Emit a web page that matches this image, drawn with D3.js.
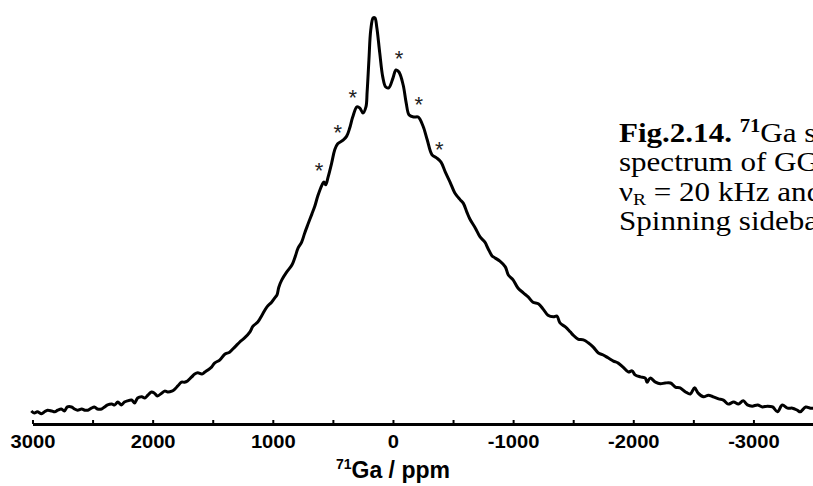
<!DOCTYPE html>
<html>
<head>
<meta charset="utf-8">
<script src="https://cdn.jsdelivr.net/npm/d3@7"></script>
<style>
  body { margin: 0; background: #fff; overflow: hidden; }
  svg { display: block; }
</style>
</head>
<body>
<div id="chart"></div>
<script>
// Chemical shift (ppm) and intensity (peak = 100)
const ppm = [3010,2985,2960,2925,2900,2875,2840,2815,2790,2760,
  2735,2710,2675,2650,2625,2590,2565,2540,2510,2485,
  2460,2425,2400,2375,2340,2315,2290,2260,2235,2210,
  2175,2150,2125,2090,2065,2040,2010,1985,1960,1925,
  1900,1875,1840,1815,1790,1760,1735,1710,1675,1650,
  1625,1590,1565,1540,1510,1485,1440,1400,1360,1315,
  1275,1235,1190,1165,1125,1090,1050,1010,985,965,
  950,925,885,840,815,790,760,735,710,675,
  650,625,590,575,560,540,510,485,460,415,
  385,360,335,300,275,250,225,215,200,185,
  165,150,135,110,85,60,35,0,-25,-50,
  -85,-110,-135,-175,-210,-250,-285,-325,-365,-400,
  -435,-475,-515,-560,-585,-615,-640,-685,-725,-765,
  -790,-825,-850,-890,-935,-960,-1000,-1040,-1085,-1125,
  -1165,-1210,-1250,-1290,-1335,-1365,-1390,-1435,-1475,-1500,
  -1540,-1585,-1625,-1665,-1710,-1750,-1790,-1835,-1875,-1915,
  -1960,-1990,-2015,-2060,-2100,-2115,-2140,-2185,-2225,-2265,
  -2310,-2350,-2390,-2435,-2475,-2510,-2540,-2585,-2625,-2665,
  -2710,-2750,-2790,-2835,-2875,-2915,-2950,-2990,-3035,-3075,
  -3115,-3160,-3200,-3240,-3285,-3325,-3365,-3390,-3435,-3475,
  -3500];

const intensity = [3.2,2.7,3.0,2.5,3.0,3.4,3.2,3.0,3.4,3.7,
  3.2,4.2,4.2,3.7,3.4,3.7,3.4,3.4,3.9,4.2,
  3.7,3.7,4.2,4.7,4.9,4.7,5.4,4.7,5.4,5.7,
  5.9,5.2,6.4,6.7,6.4,7.1,7.9,7.6,6.9,7.6,
  8.1,7.9,8.1,8.6,9.4,10.3,10.3,10.6,11.6,12.3,
  12.6,12.3,12.8,13.3,14.0,15.0,15.8,17.2,17.7,19.0,
  20.2,21.2,22.7,24.1,25.1,26.8,28.8,30.0,31.0,31.8,
  33.7,35.5,37.4,39.2,41.1,43.3,44.8,47.0,49.0,51.7,
  53.7,56.2,58.9,59.6,58.9,60.8,64.3,67.5,69.0,69.9,
  70.9,72.9,75.6,78.1,77.8,76.6,78.1,81.8,89.7,97.0,
  100,100,97.8,91.4,85.5,83.0,82.8,85.2,87.2,86.7,
  83.5,79.1,76.1,75.6,75.6,73.4,70.0,66.3,65.5,64.5,
  62.1,59.6,56.9,55.2,54.4,52.2,50.5,48.3,46.1,44.8,
  43.3,41.4,40.9,40.1,38.7,36.7,35.5,33.5,32.3,31.3,
  30.0,29.6,28.3,26.8,26.4,26.6,24.9,23.9,22.7,21.9,
  20.9,20.7,20.0,19.0,17.5,17.0,16.3,15.5,15.0,14.0,
  12.8,13.1,12.1,11.6,11.3,10.3,11.3,10.3,9.9,10.1,
  10.1,9.1,8.9,7.9,7.4,8.9,7.6,6.7,7.1,6.7,
  6.2,5.9,4.9,5.4,4.9,5.7,4.7,4.4,4.7,4.2,
  4.4,4.2,3.0,4.7,3.9,3.9,3.4,3.0,4.2,3.9,
  3.9];

// Spinning sidebands marked with *
const sidebandPpm = [615, 460, 335, -50, -215, -385];
const sidebandInt = [63.5, 72.9, 81.5, 91.1, 79.8, 68.7];

// Axis ticks every 500 ppm, labels every 1000
const tickValues = d3.range(3000, -3501, -500);

const captionLines = [
  "spectrum of GGO recorded at 18.8 T,",
  "Spinning sidebands are marked by *."
];

const width = 813;
const height = 486;

const x = d3.scaleLinear().domain([3000, -3500]).range([32.5, 813.5]);
const y = d3.scaleLinear().domain([0, 100]).range([424, 18]);

const svg = d3.select("#chart")
  .append("svg")
  .attr("width", width)
  .attr("height", height);

// spectrum trace
const line = d3.line()
  .x(d => x(d[0]))
  .y(d => y(d[1]))
  .curve(d3.curveCatmullRom.alpha(0.5));

svg.append("path")
  .datum(d3.zip(ppm, intensity))
  .attr("d", line)
  .attr("fill", "none")
  .attr("stroke", "#000")
  .attr("stroke-width", 3)
  .attr("stroke-linejoin", "round");

// x axis, ticks pointing up
const xAxis = d3.axisBottom(x)
  .tickValues(tickValues)
  .tickFormat(d => d % 1000 === 0 ? String(d) : "")
  .tickSizeInner(-4)
  .tickSizeOuter(0)
  .tickPadding(11);

const gx = svg.append("g")
  .attr("transform", `translate(0,${y(0)})`)
  .call(xAxis);

gx.select(".domain").attr("stroke", "#000").attr("stroke-width", 3);
gx.selectAll(".tick line").attr("stroke", "#000").attr("stroke-width", 2);
// the original figure is a little stretched sideways, so widen the labels
gx.selectAll(".tick text")
  .attr("fill", "#000")
  .attr("transform", "scale(1.12,1)")
  .style("font-family", "'Liberation Sans', Arial, sans-serif")
  .style("font-weight", "bold")
  .style("font-size", "18px");

// x label with superscript mass number
const xl = svg.append("text")
  .attr("x", x(0))
  .attr("y", 478)
  .attr("text-anchor", "middle")
  .style("font-family", "'Liberation Sans', Arial, sans-serif")
  .style("font-weight", "bold")
  .style("font-size", "23px");
xl.append("tspan").attr("dy", -9).style("font-size", "14px").text("71");
xl.append("tspan").attr("dy", 9).text("Ga / ppm");

// sideband asterisks
svg.selectAll("text.star")
  .data(d3.zip(sidebandPpm, sidebandInt))
  .enter()
  .append("text")
  .attr("class", "star")
  .attr("x", d => x(d[0]))
  .attr("y", d => y(d[1]) + 12)
  .attr("text-anchor", "middle")
  .style("font-family", "'Liberation Sans', Arial, sans-serif")
  .style("font-size", "22px")
  .attr("fill", "#222")
  .text("*");

// caption on the right (runs off the page like the original)
const capY = 142;
const capStep = 29.5;
const serif = "'Liberation Serif', 'Times New Roman', serif";

const cap = svg.append("g")
  .attr("transform", "translate(619,0) scale(1.15,1)")
  .style("font-family", serif)
  .style("font-size", "27px");

const l1 = cap.append("text").attr("x", 0).attr("y", capY);
l1.append("tspan").style("font-weight", "bold").text("Fig.2.14. ");
l1.append("tspan").style("font-weight", "bold").style("font-size", "18px").attr("dy", -10).text("71");
l1.append("tspan").attr("dy", 10).text("Ga solid-state MAS NMR");

cap.append("text").attr("x", 0).attr("y", capY + capStep).text(captionLines[0]);

const l3 = cap.append("text").attr("x", 0).attr("y", capY + 2 * capStep);
l3.append("tspan").text("ν");
l3.append("tspan").style("font-size", "17px").attr("dy", 4).text("R");
l3.append("tspan").attr("dy", -4).text(" = 20 kHz and 18.8 T.");

cap.append("text").attr("x", 0).attr("y", capY + 3 * capStep).text(captionLines[1]);
</script>
</body>
</html>
